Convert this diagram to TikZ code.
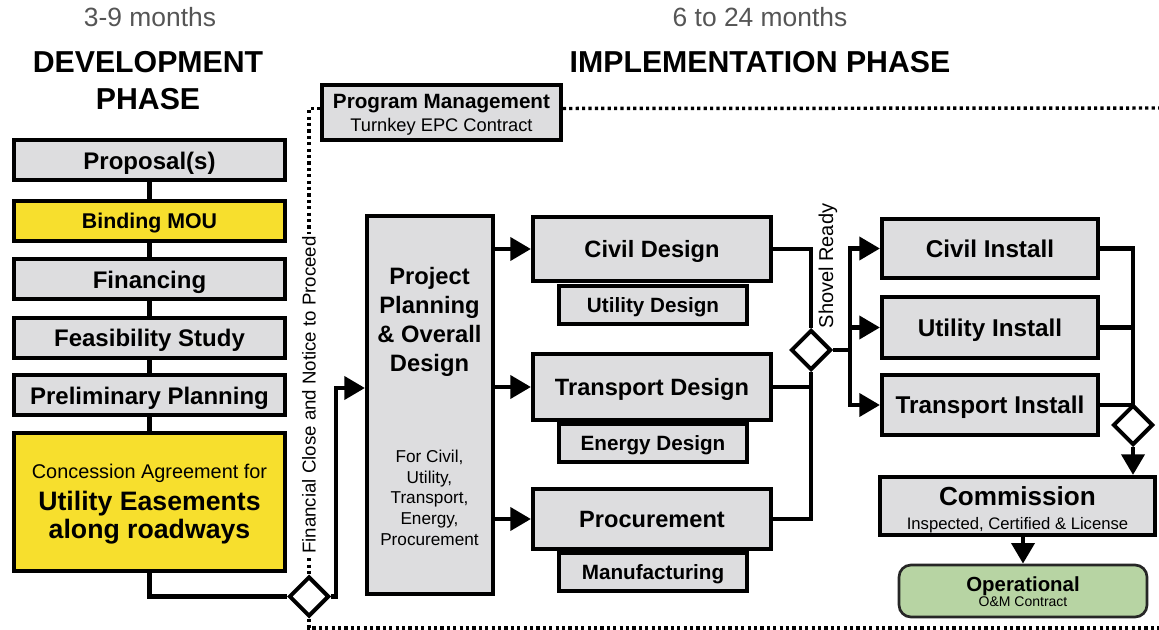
\documentclass[tikz,border=0pt]{standalone}
\usepackage{fontspec}
\setmainfont{Liberation Sans}
\usetikzlibrary{arrows.meta,shapes.geometric}
\definecolor{boxgray}{RGB}{221,221,223}
\definecolor{mouyellow}{RGB}{247,223,45}
\definecolor{opsgreen}{RGB}{183,212,163}
\definecolor{headgray}{RGB}{85,85,85}
\newcommand{\fsz}[2]{\fontsize{#1pt}{#2pt}\selectfont}
\tikzset{
  box/.style={draw, line width=3pt, fill=boxgray, inner sep=0pt, align=center},
  lbox/.style={box, minimum width=203.25pt, minimum height=30pt, font=\fsz{18}{21}\bfseries, text height=13pt, text depth=0pt},
  dbox/.style={box, minimum width=178.5pt, font=\fsz{17.7}{21}\bfseries, text height=12.7pt, text depth=0pt},
  sbox/.style={box, minimum width=141pt, minimum height=28.5pt, font=\fsz{15.5}{18}\bfseries, text height=11.1pt, text depth=0pt},
  ibox/.style={box, minimum width=162pt, font=\fsz{18.2}{21}\bfseries, text height=13pt, text depth=0pt},
  dia/.style={draw, diamond, line width=3pt, fill=white, minimum width=30pt, minimum height=30pt, inner sep=0pt},
  conn/.style={line width=3.6pt},
  arr/.style={line width=3.6pt, -{Triangle[length=15.5pt,width=17pt]}},
  dotline/.style={line width=2.6pt, dash pattern=on 2.4pt off 2.4pt},
  lbl/.style={anchor=base, inner sep=0pt}
}
\begin{document}
\begin{tikzpicture}[x=0.75pt, y=-0.75pt]
\useasboundingbox (0,0) rectangle (1159,630);

% headings
\node[lbl, font=\fsz{19.8}{24}, text=headgray] (devt) at (150,27) {3-9 months};
\node[lbl, font=\fsz{22.7}{27.75}\bfseries] (devh1) at (148,73) {DEVELOPMENT};
\node[lbl, font=\fsz{22.7}{27.75}\bfseries] (devh2) at (148,110) {PHASE};
\node[lbl, font=\fsz{19.8}{24}, text=headgray] (impt) at (760,27) {6 to 24 months};
\node[lbl, font=\fsz{22.7}{27.75}\bfseries] (imph) at (760,73) {IMPLEMENTATION PHASE};

% development column
\node[lbox] (prop) at (149.5,160.5) {Proposal(s)};
\node[lbox, fill=mouyellow, font=\fsz{16}{19}\bfseries, text height=11.5pt] (mou) at (149.5,221) {Binding MOU};
\node[lbox] (finc) at (149.5,279.5) {Financing};
\node[lbox] (feas) at (149.5,338) {Feasibility Study};
\node[lbox] (prel) at (149.5,395.5) {Preliminary Planning};
\node[box, fill=mouyellow, minimum width=203.25pt, minimum height=103.5pt] (conc) at (149.5,502) {};
\node[lbl, font=\fsz{14.9}{18}] (conc1) at (149.5,478) {Concession Agreement for};
\node[lbl, font=\fsz{20}{24}\bfseries] (conc2) at (149.5,510) {Utility Easements};
\node[lbl, font=\fsz{20}{24}\bfseries] (conc3) at (149.5,538) {along roadways};
\foreach \a/\b in {prop/mou,mou/finc,finc/feas,feas/prel,prel/conc}
  \draw[conn] (\a.south) -- (\b.north);

% program management
\node[box, minimum width=179pt, minimum height=41pt] (pm) at (441.5,112.5) {};
\node[lbl, font=\fsz{15.5}{18}\bfseries] (pm1) at (441.5,108.5) {Program Management};
\node[lbl, font=\fsz{13.7}{16}] (pm2) at (441.5,131.5) {Turnkey EPC Contract};

% project planning
\node[box, minimum width=94.5pt, minimum height=283.5pt] (pp) at (430,405) {};
\node[anchor=base, inner sep=0pt, align=center, font=\fsz{17.8}{21.75}\bfseries] (ppt) at (429.5,372)
  {Project\\Planning\\\& Overall\\Design};
\node[anchor=base, inner sep=0pt, align=center, font=\fsz{12.9}{15.4}] (ppn) at (429.5,545)
  {For Civil,\\Utility,\\Transport,\\Energy,\\Procurement};

% design and procurement
\node[sbox] (utid) at (653,305.5) {Utility Design};
\node[sbox] (endz) at (653,443) {Energy Design};
\node[sbox] (manu) at (653,572) {Manufacturing};
\node[dbox, minimum height=48pt] (civd) at (652,249) {Civil Design};
\node[dbox, minimum height=49.5pt] (trd) at (652,387) {Transport Design};
\node[dbox, minimum height=45pt] (proc) at (652,519) {Procurement};

% installation
\node[ibox, minimum height=44.25pt] (civi) at (990,248.5) {Civil Install};
\node[ibox, minimum height=45.75pt] (utii) at (990,327.5) {Utility Install};
\node[ibox, minimum height=45pt] (tri) at (990,405) {Transport Install};
\node[box, minimum width=206pt, minimum height=43.5pt] (com) at (1017.5,506) {};
\node[lbl, font=\fsz{19.6}{23}\bfseries] (com1) at (1017.5,505) {Commission};
\node[lbl, font=\fsz{12.5}{15}] (com2) at (1017.5,529) {Inspected, Certified \& License};
\node[draw=black!85, line width=2pt, fill=opsgreen, rounded corners=9pt, minimum width=186pt, minimum height=39pt] (ops) at (1023,591) {};
\node[lbl, font=\fsz{15.3}{18}\bfseries] (ops1) at (1023,591) {Operational};
\node[lbl, font=\fsz{10.5}{12}] (ops2) at (1023,606) {O\&M Contract};

% gates
\node[dia] (ntp) at (309,596.5) {};
\node[dia] (shov) at (811,350) {};
\node[dia] (chk) at (1133,425) {};

% flow
\draw[conn] (conc.south) |- (ntp.west);
\draw[arr] (ntp.east) -- ++(5,0) |- ([yshift=12.75pt]pp.west);
\foreach \n in {civd,trd,proc}
  \draw[arr] (pp.east |- \n.west) -- (\n.west);
\draw[conn] (civd.east) -| (shov.north);
\draw[conn] (trd.east) -- (trd.east -| shov.south);
\draw[conn] (proc.east) -| (shov.south);
\foreach \n in {civi,utii,tri}
  \draw[arr] (shov.east) -- ++(17,0) |- (\n.west);
\draw[conn] (civi.east) -| (chk.north);
\draw[conn] (utii.east) -- (utii.east -| chk.north);
\draw[conn] (tri.east) -| (chk.north);
\draw[arr] (chk.south) -- (chk.south |- com.north);
\draw[arr] (ops.north |- com.south) -- (ops.north);

% contract boundary
\coordinate (rt) at (1159,108);
\coordinate (bt) at (1159,628);
\draw[dotline] ([yshift=3pt]pm.west) -| (ntp.north);
\draw[dotline] ([yshift=3pt]pm.east) -- (rt);
\draw[dotline] (ntp.south) |- (bt);

\node[rotate=90, fill=white, inner sep=1.5pt, font=\fsz{14}{16}] (ntplbl) at (309,395) {Financial Close and Notice to Proceed};
\node[rotate=90, inner sep=0pt, font=\fsz{15}{18}] (shovlbl) at (828,266) {Shovel Ready};
\end{tikzpicture}
\end{document}
